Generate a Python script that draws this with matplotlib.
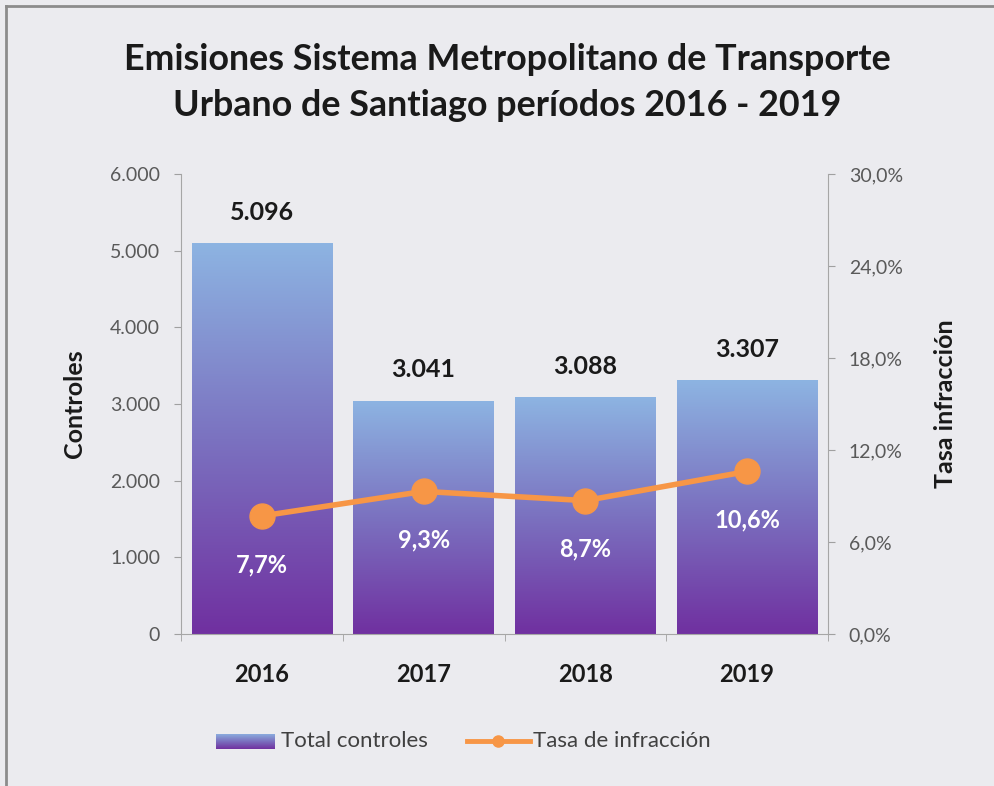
import numpy as np
import matplotlib
matplotlib.use('Agg')
import matplotlib.pyplot as plt
from matplotlib.lines import Line2D
from matplotlib.colors import LinearSegmentedColormap

plt.rcParams['font.family'] = ['Lato', 'DejaVu Sans']

# data
years = ['2016', '2017', '2018', '2019']
controles = [5096, 3041, 3088, 3307]
tasa = [7.7, 9.3, 8.7, 10.6]  # [%]
controles_labels = ['5.096', '3.041', '3.088', '3.307']
tasa_labels = ['7,7%', '9,3%', '8,7%', '10,6%']
left_ticks = [0, 1000, 2000, 3000, 4000, 5000, 6000]
left_ticklabels = ['0', '1.000', '2.000', '3.000', '4.000', '5.000', '6.000']
right_ticks = [0, 6, 12, 18, 24, 30]
right_ticklabels = ['0,0%', '6,0%', '12,0%', '18,0%', '24,0%', '30,0%']

bg = '#ebebef'
orange = '#f79646'
grad = LinearSegmentedColormap.from_list('grad', ['#7030a0', '#7b72c0', '#8db4e2'])

fig = plt.figure(figsize=(9.94, 7.86), dpi=100, facecolor=bg)
ax = fig.add_axes([181/994, 1 - 634/786, 647/994, 460/786])
ax.set_facecolor(bg)

x = np.arange(len(years))
bars = ax.bar(x, controles, width=0.87, color='none', zorder=2)
ax.set_xlim(-0.5, 3.5)
ax.set_ylim(0, 6000)

# gradient fill for each bar (light top -> purple bottom), clipped to the bar
g = np.linspace(0, 1, 256).reshape(-1, 1)
for b in bars:
    im = ax.imshow(g, cmap=grad, aspect='auto', origin='lower',
                   extent=[b.get_x(), b.get_x() + b.get_width(), 0, b.get_height()], zorder=1)
    im.set_clip_path(b)

for xi, v, lab in zip(x, controles, controles_labels):
    ax.annotate(lab, (xi, v), xytext=(0, 14), textcoords='offset points',
                ha='center', va='bottom', fontsize=18, fontweight='bold', color='#1a1a1a')

ax.set_yticks(left_ticks)
ax.set_yticklabels(left_ticklabels)
ax.set_xticks(x)
ax.set_xticklabels(years, fontsize=17, fontweight='bold', color='#1a1a1a')
ax.set_xticks(np.arange(-0.5, 4, 1), minor=True)
ax.tick_params(axis='x', which='major', length=0, pad=21)
ax.tick_params(axis='x', which='minor', length=5, color='#a0a0a0', direction='out')
ax.tick_params(axis='y', length=5, color='#a0a0a0', labelsize=14, labelcolor='#595959', pad=10)
for s in ['top', 'right']:
    ax.spines[s].set_visible(False)
for s in ['left', 'bottom']:
    ax.spines[s].set_color('#a6a6a6')
ax.set_ylabel('Controles', fontsize=18, fontweight='bold', color='#1a1a1a', labelpad=17)

ax2 = ax.twinx()
ax2.plot(x, tasa, color=orange, lw=4, marker='o', markersize=18, zorder=5)
ax2.set_ylim(0, 30)
ax2.set_yticks(right_ticks)
ax2.set_yticklabels(right_ticklabels)
ax2.tick_params(axis='y', length=5, color='#a0a0a0', labelsize=14, labelcolor='#595959', pad=10)
for s in ['top', 'left', 'bottom']:
    ax2.spines[s].set_visible(False)
ax2.spines['right'].set_color('#a6a6a6')
ax2.set_ylabel('Tasa infracción', fontsize=18, fontweight='bold', color='#1a1a1a', labelpad=22)
for xi, v, lab in zip(x, tasa, tasa_labels):
    ax2.annotate(lab, (xi, v), xytext=(0, -35), textcoords='offset points',
                 ha='center', va='center', fontsize=17, fontweight='bold', color='white')

fig.text(507/994, 1 - 60/786, 'Emisiones Sistema Metropolitano de Transporte',
         ha='center', va='center', fontsize=25.8, fontweight='bold', color='#1a1a1a')
fig.text(507/994, 1 - 105/786, 'Urbano de Santiago períodos 2016 - 2019',
         ha='center', va='center', fontsize=25.8, fontweight='bold', color='#1a1a1a')

# legend
sw = fig.add_axes([216/994, 1 - 749/786, 58/994, 15/786])
sw.imshow(g, cmap=grad, aspect='auto', origin='lower')
sw.set_axis_off()
fig.text(281/994, 1 - 741/786, 'Total controles', ha='left', va='center',
         fontsize=16, color='#404040')
fig.add_artist(Line2D([467/994, 530/994], [1 - 741/786] * 2, color=orange, lw=3.5))
fig.add_artist(Line2D([498/994], [1 - 741/786], color=orange, marker='o', markersize=8))
fig.text(533/994, 1 - 741/786, 'Tasa de infracción', ha='left', va='center',
         fontsize=16, color='#404040')

# outer frame (left and top edges)
fig.add_artist(Line2D([6/994, 6/994], [0, 1 - 6/786], color='#8c8c8c', lw=2))
fig.add_artist(Line2D([6/994, 1], [1 - 6/786] * 2, color='#8c8c8c', lw=2))

fig.savefig('out.png', dpi=100, facecolor=bg)
